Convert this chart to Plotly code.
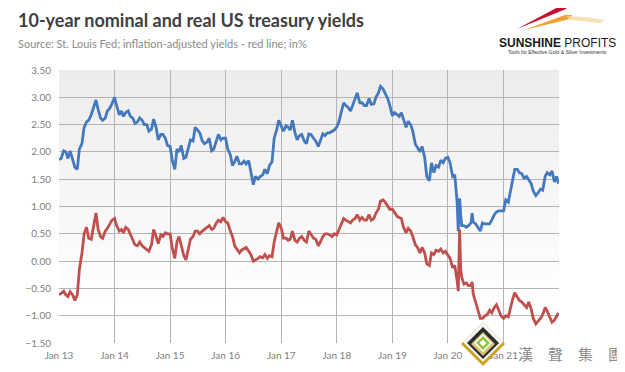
import plotly.graph_objects as go

# ---------------- data ----------------
HALF_MONTHS = [f"{m:02d}-{d:02d}" for m in range(1, 13) for d in (1, 15)]
DATES_2020 = ["01-01", "01-15", "02-01", "02-15", "03-01", "03-09", "03-18", "03-25",
              "04-01", "04-15", "05-01", "05-15", "06-01", "06-08", "06-15", "07-01",
              "07-15", "08-01", "08-15", "09-01", "09-15", "10-01", "10-15", "11-01",
              "11-15", "12-01", "12-15"]
DATES_2021 = HALF_MONTHS + ["12-28"]

NOMINAL_2013 = [1.86, 1.88, 2.02, 2.00, 1.88, 2.02, 1.86, 1.72, 1.68, 2.05, 2.15, 2.45,
                2.55, 2.58, 2.68, 2.82, 2.95, 2.78, 2.62, 2.58, 2.62, 2.75, 2.80, 2.88]
NOMINAL_2014 = [3.00, 2.85, 2.68, 2.75, 2.65, 2.72, 2.75, 2.65, 2.62, 2.52, 2.55, 2.62,
                2.58, 2.50, 2.50, 2.38, 2.42, 2.60, 2.45, 2.22, 2.32, 2.32, 2.25, 2.12]
NOMINAL_2015 = [2.10, 1.85, 1.68, 2.05, 2.00, 2.12, 1.88, 1.90, 2.05, 2.22, 2.20, 2.45,
                2.40, 2.35, 2.20, 2.15, 2.18, 2.25, 2.02, 2.05, 2.20, 2.32, 2.22, 2.25]
NOMINAL_2016 = [2.25, 2.05, 1.95, 1.75, 1.82, 1.92, 1.78, 1.78, 1.83, 1.78, 1.84, 1.60,
                1.40, 1.55, 1.50, 1.55, 1.58, 1.68, 1.60, 1.75, 1.82, 2.25, 2.40, 2.58]
NOMINAL_2017 = [2.45, 2.38, 2.48, 2.45, 2.40, 2.58, 2.35, 2.22, 2.30, 2.32, 2.20, 2.15,
                2.33, 2.32, 2.25, 2.20, 2.10, 2.20, 2.33, 2.30, 2.35, 2.35, 2.38, 2.40]
NOMINAL_2018 = [2.46, 2.55, 2.75, 2.90, 2.85, 2.82, 2.75, 2.85, 2.95, 3.08, 2.90, 2.90,
                2.85, 2.85, 2.98, 2.87, 2.88, 3.00, 3.08, 3.20, 3.15, 3.08, 2.98, 2.85]
NOMINAL_2019 = [2.66, 2.72, 2.68, 2.65, 2.72, 2.60, 2.45, 2.56, 2.50, 2.38, 2.14, 2.08,
                2.00, 2.10, 1.90, 1.55, 1.47, 1.80, 1.62, 1.75, 1.72, 1.85, 1.80, 1.88]
NOMINAL_2020 = [1.90, 1.80, 1.55, 1.58, 1.10, 0.55, 1.15, 0.85, 0.65, 0.65, 0.62, 0.65,
                0.70, 0.88, 0.72, 0.68, 0.62, 0.55, 0.70, 0.68, 0.68, 0.68, 0.75, 0.85,
                0.90, 0.92, 0.92]
NOMINAL_2021 = [0.92, 1.12, 1.08, 1.28, 1.45, 1.68, 1.68, 1.62, 1.60, 1.52, 1.55, 1.48,
                1.42, 1.28, 1.20, 1.25, 1.32, 1.30, 1.55, 1.62, 1.58, 1.65, 1.45, 1.55, 1.42]

REAL_2013 = [-0.62, -0.58, -0.55, -0.62, -0.65, -0.56, -0.62, -0.72, -0.62, -0.15, 0.15, 0.50,
             0.62, 0.42, 0.40, 0.62, 0.88, 0.58, 0.45, 0.42, 0.55, 0.60, 0.68, 0.75]
REAL_2014 = [0.78, 0.65, 0.55, 0.58, 0.52, 0.62, 0.58, 0.50, 0.40, 0.30, 0.28, 0.35,
             0.28, 0.25, 0.22, 0.18, 0.30, 0.58, 0.45, 0.32, 0.48, 0.45, 0.52, 0.50]
REAL_2015 = [0.50, 0.25, 0.05, 0.35, 0.45, 0.30, 0.10, 0.02, 0.25, 0.40, 0.45, 0.55,
             0.55, 0.50, 0.55, 0.58, 0.62, 0.65, 0.58, 0.60, 0.70, 0.75, 0.72, 0.80]
REAL_2016 = [0.72, 0.70, 0.55, 0.45, 0.28, 0.22, 0.15, 0.20, 0.22, 0.25, 0.18, 0.12,
             0.00, 0.02, 0.05, 0.08, 0.06, 0.12, 0.05, 0.10, 0.08, 0.35, 0.55, 0.70]
REAL_2017 = [0.60, 0.42, 0.42, 0.38, 0.40, 0.55, 0.38, 0.35, 0.42, 0.45, 0.38, 0.35,
             0.55, 0.50, 0.42, 0.40, 0.28, 0.35, 0.45, 0.50, 0.50, 0.48, 0.45, 0.50]
REAL_2018 = [0.48, 0.58, 0.70, 0.78, 0.75, 0.72, 0.70, 0.75, 0.78, 0.85, 0.75, 0.80,
             0.75, 0.75, 0.85, 0.75, 0.78, 0.88, 0.95, 1.10, 1.12, 1.08, 1.00, 0.95]
REAL_2019 = [0.95, 0.90, 0.82, 0.80, 0.78, 0.62, 0.52, 0.60, 0.55, 0.45, 0.30, 0.25,
             0.15, 0.25, 0.15, -0.05, -0.08, 0.15, 0.12, 0.20, 0.18, 0.22, 0.15, 0.18]
REAL_2020 = [0.12, 0.05, -0.12, -0.08, -0.35, -0.55, 0.58, -0.15, -0.30, -0.42, -0.40, -0.45,
             -0.45, -0.38, -0.60, -0.75, -0.85, -1.05, -1.05, -1.00, -0.98, -0.90, -0.95, -0.85,
             -0.80, -0.90, -1.00]
REAL_2021 = [-1.05, -1.00, -1.02, -0.85, -0.70, -0.58, -0.65, -0.72, -0.75, -0.80, -0.85, -0.75,
             -0.88, -1.05, -1.15, -1.10, -1.05, -0.98, -0.85, -0.92, -1.05, -1.12, -1.08, -1.00, -0.95]

Y_TICKS = [-1.5, -1.0, -0.5, 0.0, 0.5, 1.0, 1.5, 2.0, 2.5, 3.0, 3.5]

TITLE = "10-year nominal and real US treasury yields"
SUBTITLE = "Source: St. Louis Fed; inflation-adjusted yields - red line; in%"
LOGO_MAIN = "<b>SUNSHINE</b> PROFITS"
LOGO_TAG = "Tools for Effective Gold &amp; Silver Investments"
WATERMARK = "漢　聲　集　團"

# ---------------- assemble ----------------
year_md = {y: HALF_MONTHS for y in range(2013, 2020)}
year_md[2020] = DATES_2020
year_md[2021] = DATES_2021
nom_by_year = {2013: NOMINAL_2013, 2014: NOMINAL_2014, 2015: NOMINAL_2015, 2016: NOMINAL_2016,
               2017: NOMINAL_2017, 2018: NOMINAL_2018, 2019: NOMINAL_2019, 2020: NOMINAL_2020,
               2021: NOMINAL_2021}
real_by_year = {2013: REAL_2013, 2014: REAL_2014, 2015: REAL_2015, 2016: REAL_2016,
                2017: REAL_2017, 2018: REAL_2018, 2019: REAL_2019, 2020: REAL_2020,
                2021: REAL_2021}
dates, nominal, real = [], [], []
for y in range(2013, 2022):
    md = year_md[y]
    assert len(md) == len(nom_by_year[y]) == len(real_by_year[y])
    dates += [f"{y}-{d}" for d in md]
    nominal += nom_by_year[y]
    real += real_by_year[y]

# ---------------- geometry ----------------
# the page body has an 8px default margin, so the figure is drawn 8px right/down
OFF = 8
W, H = 625 - OFF, 372 - OFF
ML, MR, MT, MB = 59 - OFF, 66, 70 - OFF, 29
PW, PH = W - ML - MR, H - MT - MB


def px(xp):  # page pixel x -> paper x
    return (xp - OFF - ML) / PW


def py(yp):  # page pixel y -> paper y
    return (H - MB - (yp - OFF)) / PH


FONT = "Lato, 'Open Sans', sans-serif"
GRID = "#b4b4b4"
TICK = "#808080"

fig = go.Figure()
fig.add_trace(go.Scatter(x=dates, y=nominal, mode="lines",
                         line=dict(color="#4479be", width=2.8), hoverinfo="skip"))
fig.add_trace(go.Scatter(x=dates, y=real, mode="lines",
                         line=dict(color="#c0504d", width=2.8), hoverinfo="skip"))

# plot-area gradient background
N = 40
shapes = []
for i in range(N):
    t = i / N
    frac = min(1.0, t / 0.85)
    c = int(round(236 + (255 - 236) * frac))
    shapes.append(dict(type="rect", xref="x domain", yref="y domain",
                       x0=0, x1=1, y0=1 - (i + 1) / N, y1=1 - i / N,
                       fillcolor=f"rgb({c},{c},{c})", line=dict(width=0), layer="below"))


def poly(points, color, opacity=1.0):
    p = "M " + " L ".join(f"{px(a):.4f} {py(b):.4f}" for a, b in points) + " Z"
    return dict(type="path", xref="paper", yref="paper", path=p, fillcolor=color,
                opacity=opacity, line=dict(width=0), layer="above")


# Sunshine Profits swoosh (decoration)
shapes += [
    poly([(517, 29), (560, 6), (567, 5), (566, 9)], "#c8102e"),
    poly([(524, 30), (565, 15), (572, 15), (570, 19)], "#f0a030"),
    poly([(566, 16), (585, 17), (605, 20), (600, 23), (570, 20)], "#f2d9a0", 0.8),
]


def diamond(cx, cy, r, color):
    return poly([(cx, cy - r), (cx + r, cy), (cx, cy + r), (cx - r, cy)], color)


# watermark diamond (decoration)
shapes += [diamond(483, 344, 22, "#c9a41f"), diamond(483, 342, 20, "#f4f4f4"),
           diamond(483, 343, 16, "#2b2b2b"), diamond(483, 344, 12, "#d8c27a"),
           diamond(483, 343, 9, "#ffffff"), diamond(483, 343, 7, "#8cc63f"),
           diamond(483, 343, 3.5, "#ffffff")]

annotations = [
    dict(text=f"<b>{TITLE}</b>", x=px(16), y=py(20), xanchor="left", yanchor="middle",
         font=dict(family=FONT, size=18, color="#404040")),
    dict(text=SUBTITLE, x=px(16), y=py(44), xanchor="left", yanchor="middle",
         font=dict(family=FONT, size=11, color="#8a8a8a")),
    dict(text=LOGO_MAIN, x=px(557), y=py(43), xanchor="center", yanchor="middle",
         font=dict(family="'Liberation Sans', Arial, sans-serif", size=12, color="#1a1a1a")),
    dict(text=LOGO_TAG, x=px(557), y=py(52), xanchor="center", yanchor="middle",
         font=dict(family="'Liberation Sans', Arial, sans-serif", size=5, color="#333333")),
    dict(text=WATERMARK, x=px(570), y=py(353), xanchor="center", yanchor="middle",
         font=dict(family="'Noto Sans CJK TC', sans-serif", size=15, color="#8c8c8c")),
]
for a in annotations:
    a.update(xref="paper", yref="paper", showarrow=False)

fig.update_layout(
    width=W, height=H,
    margin=dict(l=ML, r=MR, t=MT, b=MB, autoexpand=False),
    paper_bgcolor="white", plot_bgcolor="white",
    showlegend=False,
    shapes=shapes, annotations=annotations,
    font=dict(family=FONT, color=TICK, size=10),
)
fig.update_xaxes(
    type="date", range=["2013-01-01", "2021-12-31"],
    tick0="2013-01-01", dtick="M12", tickformat="%b %y",
    showgrid=True, gridcolor=GRID, gridwidth=1.3,
    zeroline=False, showline=False, ticks="", ticklabelstandoff=5,
    tickfont=dict(family=FONT, size=10, color=TICK),
)
fig.update_yaxes(
    range=[-1.5, 3.5], tickvals=Y_TICKS, tickformat=".2f",
    showgrid=True, gridcolor=GRID, gridwidth=1.3,
    zeroline=False, showline=False, ticks="", ticklabelstandoff=7,
    tickfont=dict(family=FONT, size=10, color=TICK),
)

fig.write_html("out.html")
